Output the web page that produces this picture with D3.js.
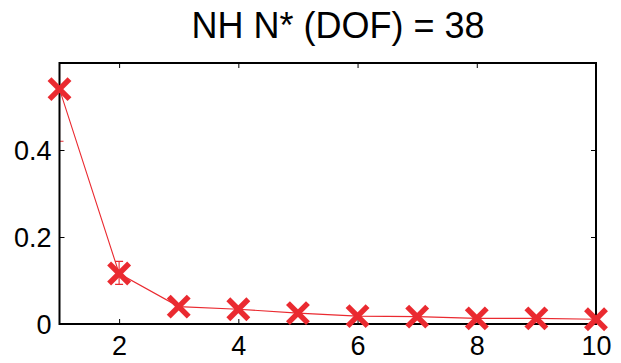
<!DOCTYPE html>
<html>
<head>
<meta charset="utf-8">
<script src="https://cdn.jsdelivr.net/npm/d3@7"></script>
<style>
  body { margin: 0; background: #fff; }
  text { font-family: "Liberation Sans", Arial, sans-serif; fill: #000; }
</style>
</head>
<body>
<div id="chart"></div>
<script>
const titleText = 'NH N* (DOF) = 38';
const modes = [1, 2, 3, 4, 5, 6, 7, 8, 9, 10];
const values = [0.54, 0.116, 0.040, 0.034, 0.025, 0.018, 0.017, 0.013, 0.013, 0.011];
const errLow = [0.42, 0.091, null, null, null, null, null, null, null, null];
const errHigh = [0.66, 0.144, null, null, null, null, null, null, null, null];
const xTicks = [2, 4, 6, 8, 10];
const yTicks = [0, 0.2, 0.4];

const width = 621;
const height = 363;
const margin = { top: 63, right: 25, bottom: 39, left: 59.5 };
const red = '#ea2a30';

const x = d3.scaleLinear().domain([1, 10]).range([margin.left, width - margin.right]);
const y = d3.scaleLinear().domain([0, 0.6]).range([height - margin.bottom, margin.top]);

const svg = d3.select('#chart').append('svg')
  .attr('width', width)
  .attr('height', height);

// error bars get cut at the plot box
svg.append('defs').append('clipPath').attr('id', 'clipbox')
  .append('rect')
  .attr('x', x(1)).attr('y', y(0.6))
  .attr('width', x(10) - x(1)).attr('height', y(0) - y(0.6));

const pts = modes.map((m, i) => ({ m, v: values[i], lo: errLow[i], hi: errHigh[i] }));

// connecting line
svg.append('path')
  .datum(pts)
  .attr('fill', 'none')
  .attr('stroke', red)
  .attr('stroke-width', 1.1)
  .attr('d', d3.line().x(d => x(d.m)).y(d => y(d.v)));

// error bars
const eb = svg.append('g').attr('clip-path', 'url(#clipbox)')
  .selectAll('g').data(pts.filter(d => d.lo != null)).join('g')
  .attr('stroke', red).attr('stroke-width', 1.1);
eb.append('line')
  .attr('x1', d => x(d.m)).attr('x2', d => x(d.m))
  .attr('y1', d => y(d.lo)).attr('y2', d => y(d.hi));
eb.append('line')
  .attr('x1', d => x(d.m) - 4).attr('x2', d => x(d.m) + 4)
  .attr('y1', d => y(d.lo)).attr('y2', d => y(d.lo));
eb.append('line')
  .attr('x1', d => x(d.m) - 4).attr('x2', d => x(d.m) + 4)
  .attr('y1', d => y(d.hi)).attr('y2', d => y(d.hi));

// axes box
svg.append('rect')
  .attr('x', x(1)).attr('y', y(0.6))
  .attr('width', x(10) - x(1)).attr('height', y(0) - y(0.6))
  .attr('fill', 'none').attr('stroke', '#000').attr('stroke-width', 2);

// inward ticks, MATLAB-style
const tickLen = 5;
const xAxis = d3.axisBottom(x).tickValues(xTicks).tickSize(-tickLen).tickPadding(12).tickFormat(d3.format('d'));
const yAxis = d3.axisLeft(y).tickValues(yTicks).tickSize(-tickLen).tickPadding(8).tickFormat(d => d === 0 ? '0' : d3.format('.1f')(d));

const gx = svg.append('g').attr('transform', `translate(0,${y(0)})`).call(xAxis);
const gy = svg.append('g').attr('transform', `translate(${x(1)},0)`).call(yAxis);
const gxTop = svg.append('g').attr('transform', `translate(0,${y(0.6)})`)
  .call(d3.axisTop(x).tickValues(xTicks).tickSize(-tickLen).tickFormat(''));
const gyRight = svg.append('g').attr('transform', `translate(${x(10)},0)`)
  .call(d3.axisRight(y).tickValues(yTicks).tickSize(-tickLen).tickFormat(''));

[gx, gy, gxTop, gyRight].forEach(g => {
  g.select('.domain').remove();
  g.selectAll('.tick line').attr('stroke', '#000').attr('stroke-width', 1);
});
gx.selectAll('text').attr('font-size', 27).attr('dy', '0.71em');
gy.selectAll('text').attr('font-size', 27).attr('dy', '0.36em');

// markers
const s = 10;
const mk = svg.append('g').selectAll('g').data(pts).join('g')
  .attr('transform', d => `translate(${x(d.m)},${y(d.v)})`)
  .attr('stroke', red).attr('stroke-width', 5.5).attr('stroke-linecap', 'butt');
mk.append('line').attr('x1', -s).attr('y1', -s).attr('x2', s).attr('y2', s);
mk.append('line').attr('x1', -s).attr('y1', s).attr('x2', s).attr('y2', -s);

// title
svg.append('text')
  .attr('x', 338)
  .attr('y', 38)
  .attr('text-anchor', 'middle')
  .attr('font-size', 36)
  .text(titleText);
</script>
</body>
</html>
